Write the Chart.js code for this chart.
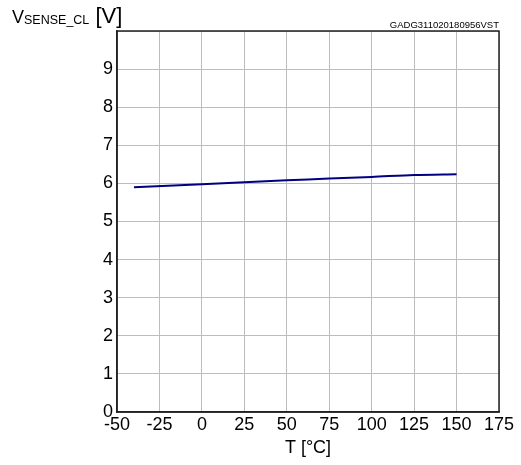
<!DOCTYPE html>
<html>
<head>
<meta charset="utf-8">
<script src="https://cdn.jsdelivr.net/npm/chart.js@4/dist/chart.umd.min.js"></script>
<style>
  html, body { margin: 0; padding: 0; background: #fff; }
  #wrap { position: relative; width: 521px; height: 465px; }
  #ytitle { position: absolute; left: 12px; top: 2px; font-family: "Liberation Sans", Arial, sans-serif; font-size: 18px; color: #000; white-space: nowrap; line-height: 28px; }
  #ytitle sub { font-size: 12.5px; vertical-align: -1px; }
  #ytitle .br { font-size: 22px; }
  #code { position: absolute; right: 22px; top: 19px; font-family: "Liberation Sans", Arial, sans-serif; font-size: 9.5px; color: #000; white-space: nowrap; }
</style>
</head>
<body>
<div id="wrap">
  <canvas id="c" width="521" height="465"></canvas>
  <div id="ytitle">V<sub>SENSE_CL</sub><span class="br"> [V]</span></div>
  <div id="code">GADG311020180956VST</div>
</div>
<script>
const temperatures = [-40, 0, 25, 50, 75, 100, 125, 150];
const vSenseCl = [5.90, 5.98, 6.03, 6.08, 6.13, 6.17, 6.22, 6.24];
const xTicks = [-50, -25, 0, 25, 50, 75, 100, 125, 150, 175];
const yTicks = [0, 1, 2, 3, 4, 5, 6, 7, 8, 9];

const FONT = "'Liberation Sans', Arial, sans-serif";

new Chart(document.getElementById('c'), {
  type: 'line',
  data: {
    datasets: [{
      data: temperatures.map((t, i) => ({ x: t, y: vSenseCl[i] })),
      borderColor: '#000080',
      borderWidth: 2,
      pointRadius: 0,
      tension: 0.3,
      fill: false
    }]
  },
  options: {
    responsive: false,
    animation: false,
    devicePixelRatio: 1,
    layout: { padding: { left: 0, top: 31, right: 22, bottom: 0 } },
    plugins: { legend: { display: false }, tooltip: { enabled: false } },
    scales: {
      x: {
        type: 'linear',
        min: -50, max: 175,
        afterBuildTicks: s => { s.ticks = xTicks.map(v => ({ value: v })); },
        afterFit: s => { s.height = 53; },
        grid: { color: '#bdbdbd', lineWidth: 1, drawTicks: false },
        border: { color: '#222', width: 1.5 },
        ticks: { color: '#000', font: { family: FONT, size: 18 }, padding: 2, maxRotation: 0 },
        title: { display: true, text: 'T [°C]', color: '#000', font: { family: FONT, size: 18 }, padding: { top: 0, bottom: 6 } }
      },
      y: {
        type: 'linear',
        min: 0, max: 10,
        afterBuildTicks: s => { s.ticks = yTicks.concat([10]).map(v => ({ value: v })); },
        afterFit: s => { s.width = 117; },
        grid: { color: '#bdbdbd', lineWidth: 1, drawTicks: false },
        border: { color: '#222', width: 1.5 },
        ticks: { color: '#000', font: { family: FONT, size: 18 }, padding: 4,
          callback: v => (yTicks.includes(v) ? String(v) : '') }
      }
    }
  },
  plugins: [{
    id: 'frame',
    afterDraw(chart) {
      const { ctx, chartArea: a } = chart;
      ctx.save();
      ctx.strokeStyle = '#222';
      ctx.lineWidth = 1.5;
      ctx.strokeRect(a.left, a.top, a.right - a.left, a.bottom - a.top);
      ctx.restore();
    }
  }]
});
</script>
</body>
</html>
